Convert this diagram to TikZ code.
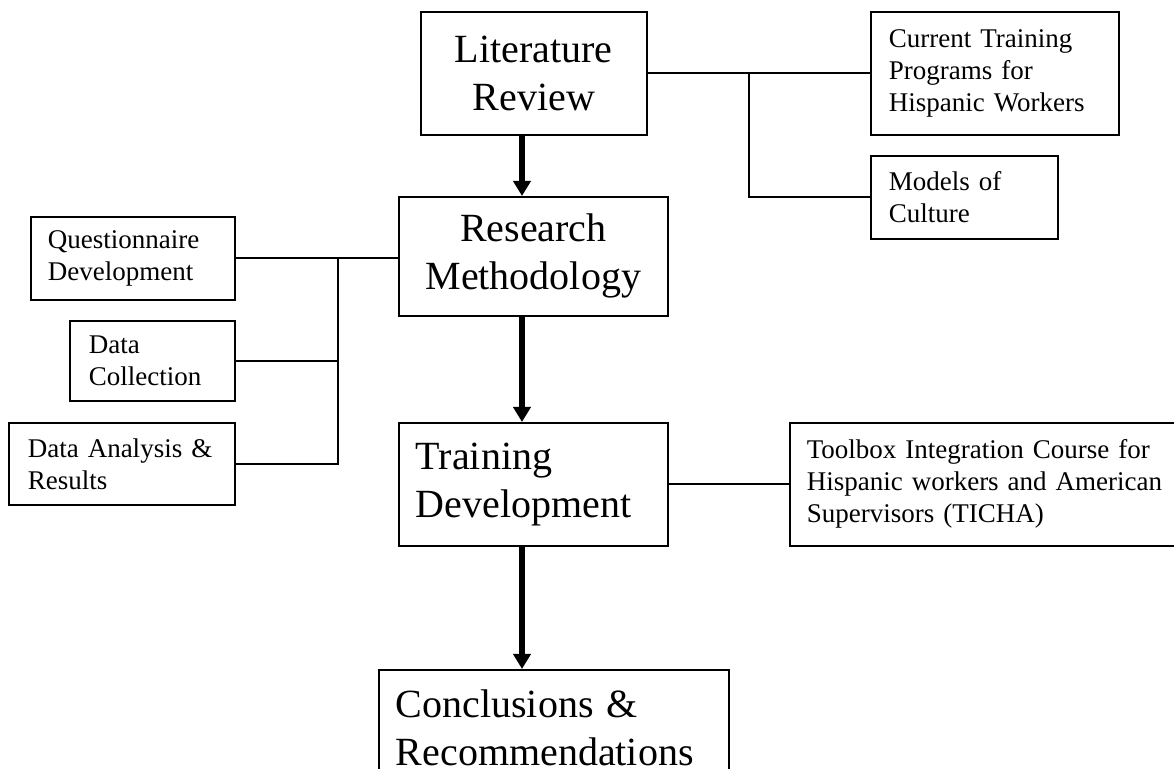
\documentclass[tikz,border=0pt]{standalone}
\usepackage{fontspec}
\setmainfont{Liberation Serif}
\usepackage{tikz}
\usetikzlibrary{arrows.meta, positioning}
\tikzstyle{mainbox} = [rectangle, draw=black, line width=0.8pt, anchor=north west, align=center, font=\fontsize{20}{24}\selectfont, inner sep=0pt]
\tikzstyle{sidebox} = [rectangle, draw=black, line width=0.8pt, anchor=north west, align=left, font=\fontsize{13.5}{16}\selectfont, inner xsep=9pt, inner ysep=0pt]
\tikzstyle{flow} = [line width=2.8pt, -{Triangle[width=8.5pt, length=7.5pt]}, color=black]
\tikzstyle{link} = [line width=0.8pt, color=black]

\begin{document}
\begin{tikzpicture}[x=0.5pt, y=-0.5pt]
\useasboundingbox (0,0) rectangle (1174,769);
\clip (0,0) rectangle (1174,769);

\node (lit) [mainbox, minimum width=113pt, minimum height=61.5pt] at (420,11) {Literature\\Review};
\node (method) [mainbox, minimum width=134.5pt, minimum height=59.5pt] at (398,196) {Research\\Methodology};
\node (train) [mainbox, align=left, inner xsep=8.5pt, text width=117.5pt, minimum height=61.5pt] at (398,422) {Training\\Development};
\node (concl) [mainbox, align=left, inner xsep=8.5pt, text width=158pt, minimum height=58pt] at (378,669) {Conclusions \&\\Recommendations};

\node (current) [sidebox, text width=106pt, minimum height=61.5pt] at (870,11) {Current Training\\Programs for\\Hispanic Workers};
\node (models) [sidebox, text width=75.5pt, minimum height=41.5pt] at (870,155) {Models of\\Culture};

\node (quest) [sidebox, inner xsep=8.5pt, text width=85pt, minimum height=41.5pt] at (30,216) {Questionnaire\\Development};
\node (collect) [sidebox, inner xsep=9.5pt, text width=63.5pt, minimum height=40pt] at (69,320) {Data\\Collection};
\node (analysis) [sidebox, inner xsep=9.5pt, text width=94pt, minimum height=41pt] at (8,422) {Data Analysis \&\\Results};

\node (toolbox) [sidebox, inner xsep=8.5pt, text width=183pt, minimum height=61.5pt] at (789,422) {Toolbox Integration Course for\\Hispanic workers and American\\Supervisors (TICHA)};

\coordinate (axis) at (522,0);
\coordinate (lbranch) at (338,0);
\coordinate (rbranch) at (749,0);

% main sequence
\draw[flow] (lit.south -| axis) -- (method.north -| axis);
\draw[flow] (method.south -| axis) -- (train.north -| axis);
\draw[flow] (train.south -| axis) -- (concl.north -| axis);

% literature branches
\draw[link] (lit.east) -- (current.west);
\draw[link] (lit.east -| rbranch) -- (models.west -| rbranch) -- (models.west);

% methodology branches
\draw[link] (quest.east) -- (quest.east -| method.west);
\draw[link] (quest.east -| lbranch) -- (analysis.east -| lbranch) -- (analysis.east);
\draw[link] (collect.east) -- (collect.east -| lbranch);

\draw[link] (train.east) -- (toolbox.west);

\end{tikzpicture}
\end{document}
